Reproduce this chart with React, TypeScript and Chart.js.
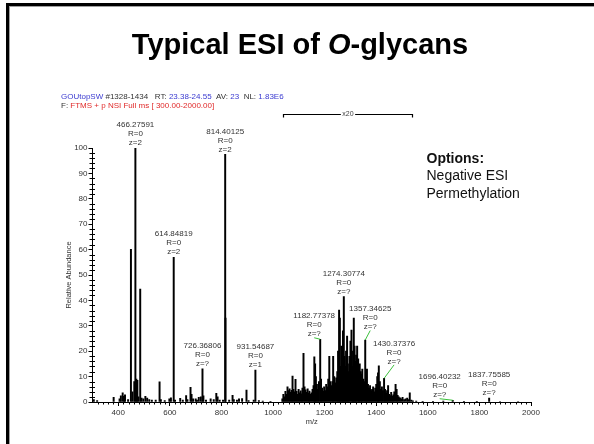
import React, { useEffect, useRef } from "react";
import { Chart, registerables } from "chart.js";

Chart.register(...registerables);

const FONT = '"Liberation Sans", Arial, Helvetica, sans-serif';

// ---------- Spectrum data: m/z and relative abundance (%) ----------
const lowMz = [
  305, 318, 382, 405, 410, 417, 422, 426, 438, 449,
  455, 462, 466.27591, 470, 474, 478, 485, 490, 497, 505,
  512, 520, 530, 545, 560, 565, 580, 598, 604, 614.84819,
  620, 640, 650, 663, 668, 680, 684, 690, 700, 705,
  712, 720, 726.36806, 730, 740, 758, 770, 780, 785, 793,
  806, 814.40125, 815.6, 830, 843, 848, 860, 868, 880, 897,
  905, 925, 931.54687, 945, 960, 990,
];
const lowInt = [
  1.0, 0.6, 1.8, 1.2, 2.4, 3.6, 2.2, 2.8, 1.0, 60.1,
  4.0, 8.0, 100, 9.0, 8.5, 2.0, 44.5, 1.5, 1.2, 2.2,
  1.5, 1.0, 0.8, 0.8, 7.9, 1.0, 0.6, 1.2, 1.6, 57,
  0.8, 1.4, 0.8, 2.5, 1.0, 5.8, 3.0, 1.2, 1.2, 0.8,
  1.8, 2.0, 13.1, 2.4, 0.8, 1.2, 1.0, 3.4, 2.0, 0.8,
  0.8, 97.5, 33, 0.8, 2.6, 1.0, 0.8, 1.2, 1.3, 4.7,
  0.6, 0.8, 12.6, 0.6, 0.4, 0.3,
];

// x20 magnified region
const clusterMz = [
  1036, 1040, 1044, 1048, 1052, 1056, 1060, 1064, 1068, 1072,
  1075.5, 1079, 1083, 1087, 1091, 1095, 1099, 1103, 1107, 1111,
  1114, 1118, 1122, 1126, 1130, 1134, 1138, 1141, 1145, 1149,
  1153, 1157, 1160, 1163, 1166, 1170, 1174, 1178, 1182.77378, 1186,
  1190, 1194, 1198, 1202, 1206, 1210, 1214, 1218, 1222, 1226,
  1230, 1233, 1237, 1241, 1245, 1249, 1252, 1256, 1259, 1262,
  1265, 1268, 1271, 1274.30774, 1277, 1280, 1283, 1287, 1290, 1293,
  1296, 1300, 1304, 1307, 1310, 1313, 1316, 1319, 1322, 1326,
  1330, 1333, 1336, 1340, 1343, 1346, 1350, 1354, 1357.34625, 1361,
  1364, 1368, 1372, 1376, 1380, 1384, 1388, 1392, 1396, 1400,
  1404, 1407, 1410, 1414, 1418, 1422, 1426, 1430.37376, 1434, 1438,
  1442, 1446, 1450, 1454, 1458, 1462, 1466, 1470, 1475, 1479,
  1483, 1487, 1492, 1497, 1502, 1508, 1514, 1520, 1525, 1530,
  1536, 1542,
];
const clusterInt = [
  1.2, 3.0, 2.0, 4.2, 3.0, 6.0, 4.5, 5.2, 3.8, 4.6,
  10.2, 5.0, 4.0, 8.9, 4.2, 3.0, 5.0, 3.6, 4.4, 3.2,
  5.5, 19.2, 6.0, 4.8, 3.8, 5.2, 3.5, 4.3, 3.0, 3.6,
  5.0, 6.5, 17.8, 15.0, 10.0, 7.0, 5.0, 8.0, 24.7, 9.0,
  5.5, 4.2, 6.0, 4.5, 7.0, 6.0, 9.0, 18.0, 8.0, 6.5,
  8.0, 18.0, 10.0, 7.5, 9.5, 12.0, 20.0, 36.2, 33.0, 14.0,
  22.0, 16.0, 28.0, 41.5, 18.0, 14.0, 20.0, 26.0, 15.0, 12.0,
  18.0, 24.0, 28.3, 14.0, 20.0, 33.0, 22.0, 16.0, 18.5, 22.0,
  17.0, 14.0, 15.0, 12.0, 11.0, 13.0, 9.0, 8.0, 24.4, 10.0,
  13.0, 7.0, 5.5, 6.5, 4.5, 5.0, 6.0, 4.0, 5.5, 7.0,
  10.0, 11.5, 14.2, 8.0, 5.0, 6.0, 4.5, 9.3, 5.0, 3.5,
  4.5, 6.5, 3.0, 2.5, 3.8, 2.2, 2.8, 4.0, 7.0, 5.0,
  2.6, 2.0, 1.6, 1.2, 1.8, 1.0, 1.2, 1.5, 1.0, 3.6,
  0.8, 0.5,
];

const highMz = [1555, 1580, 1620, 1660, 1696.40232, 1740, 1790, 1837.75585, 1880, 1950];
const highInt = [0.4, 0.3, 0.3, 0.4, 0.7, 0.3, 0.3, 1.5, 0.2, 0.2];

// Peak annotations
const labelMz = [466.27591, 614.84819, 726.36806, 814.40125, 931.54687, 1182.77378, 1274.30774, 1357.34625, 1430.37376, 1696.40232, 1837.75585];
const labelR = ["0", "0", "0", "0", "0", "0", "0", "0", "0", "0", "0"];
const labelZ = ["2", "2", "?", "2", "1", "?", "?", "?", "?", "?", "?"];

// Axis ticks
const xTicks = [400, 600, 800, 1000, 1200, 1400, 1600, 1800, 2000];
const yTicks = [0, 10, 20, 30, 40, 50, 60, 70, 80, 90, 100];
const zoomRange = [1037, 1540];
const zoomText = "x20";

// ---------- layout (pixels) ----------
const labelDx = [0, 0, 0, 0, 0, -6, 0, 5, 10, -13, 0];
const labelRise = [5, 5, 5, 5, 5, 5, 5, 13, 17, 5, 5];
const labelLeader = [false, false, false, false, false, true, false, true, true, true, false];

const allMz = [...lowMz, ...clusterMz, ...highMz];
const allInt = [...lowInt, ...clusterInt, ...highInt];

function intensityAt(mz: number): number {
  const i = allMz.indexOf(mz);
  return i >= 0 ? allInt[i] : 0;
}

type Seg = { t: string; c: string; f: string };

function drawSegs(ctx: CanvasRenderingContext2D, segs: Seg[], x: number, y: number, center = false) {
  let total = 0;
  for (const s of segs) {
    ctx.font = s.f;
    total += ctx.measureText(s.t).width;
  }
  let cx = center ? x - total / 2 : x;
  ctx.textAlign = "left";
  for (const s of segs) {
    ctx.font = s.f;
    ctx.fillStyle = s.c;
    ctx.fillText(s.t, cx, y);
    cx += ctx.measureText(s.t).width;
  }
}

const decoPlugin = {
  id: "deco",
  afterDraw(chart: any) {
    const ctx: CanvasRenderingContext2D = chart.ctx;
    const xs = chart.scales.x;
    const ys = chart.scales.y;
    const area = chart.chartArea;
    ctx.save();

    // slide frame (top + left)
    ctx.fillStyle = "#000";
    ctx.fillRect(6, 3, 594 - 6, 3);
    ctx.fillRect(6, 3, 3, 444 - 3);
    ctx.fillStyle = "#a0a0a0";
    ctx.fillRect(9, 6, 594 - 9, 1);
    ctx.fillRect(9, 6, 1, 444 - 6);

    // slide title
    ctx.textBaseline = "middle";
    const tf = `bold 29px ${FONT}`;
    const tfi = `italic bold 29px ${FONT}`;
    drawSegs(ctx, [
      { t: "Typical ESI of ", c: "#000", f: tf },
      { t: "O", c: "#000", f: tfi },
      { t: "-glycans", c: "#000", f: tf },
    ], 300, 46, true);

    // header lines
    const hf = `8px ${FONT}`;
    const blue = "#3a3ad0";
    const grey = "#333";
    const red = "#e02a2a";
    drawSegs(ctx, [
      { t: "GOUtopSW", c: blue, f: hf },
      { t: " #1328-1434   RT: ", c: grey, f: hf },
      { t: "23.38-24.55", c: blue, f: hf },
      { t: "  AV: ", c: grey, f: hf },
      { t: "23", c: blue, f: hf },
      { t: "  NL: ", c: grey, f: hf },
      { t: "1.83E6", c: blue, f: hf },
    ], 61, 96.5);
    drawSegs(ctx, [
      { t: "F: ", c: grey, f: hf },
      { t: "FTMS + p NSI Full ms [ 300.00-2000.00]", c: red, f: hf },
    ], 61, 106);

    // options box
    ctx.fillStyle = "#111";
    ctx.textAlign = "left";
    ctx.font = `bold 14px ${FONT}`;
    ctx.fillText("Options:", 426.5, 159);
    ctx.font = `14px ${FONT}`;
    ctx.fillText("Negative ESI", 426.5, 176.5);
    ctx.fillText("Permethylation", 426.5, 194);

    // x20 bracket
    const bx1 = Math.round(xs.getPixelForValue(zoomRange[0])) + 0.5;
    const bx2 = Math.round(xs.getPixelForValue(zoomRange[1])) + 0.5;
    const by = 114.5;
    ctx.font = `7px ${FONT}`;
    const tw = ctx.measureText(zoomText).width;
    const mid = (bx1 + bx2) / 2;
    ctx.strokeStyle = "#000";
    ctx.lineWidth = 1.2;
    ctx.beginPath();
    ctx.moveTo(bx1, by + 3);
    ctx.lineTo(bx1, by);
    ctx.lineTo(mid - tw / 2 - 1.5, by);
    ctx.moveTo(mid + tw / 2 + 1.5, by);
    ctx.lineTo(bx2, by);
    ctx.lineTo(bx2, by + 3);
    ctx.stroke();
    ctx.fillStyle = "#444";
    ctx.textAlign = "center";
    ctx.fillText(zoomText, mid, by);

    // minor ticks
    ctx.strokeStyle = "#000";
    ctx.lineWidth = 1;
    ctx.beginPath();
    for (let v = 320; v < 2000; v += 20) {
      if (v % 200 === 0) continue;
      const px = Math.round(xs.getPixelForValue(v)) + 0.5;
      ctx.moveTo(px, area.bottom);
      ctx.lineTo(px, area.bottom + 2.5);
    }
    for (let v = 2; v < 100; v += 2) {
      if (v % 10 === 0) continue;
      const py = Math.round(ys.getPixelForValue(v)) + 0.5;
      ctx.moveTo(area.left - 3, py);
      ctx.lineTo(area.left + 2.5, py);
    }
    ctx.stroke();

    // peak labels
    ctx.font = `8px ${FONT}`;
    ctx.textAlign = "center";
    ctx.textBaseline = "middle";
    for (let i = 0; i < labelMz.length; i++) {
      const mz = labelMz[i];
      const px = xs.getPixelForValue(mz);
      const py = ys.getPixelForValue(intensityAt(mz));
      const tx = px + labelDx[i];
      const bottom = py - labelRise[i];
      ctx.fillStyle = "#333";
      ctx.fillText(mz.toFixed(5), tx, bottom - 18);
      ctx.fillText("R=" + labelR[i], tx, bottom - 9);
      ctx.fillText("z=" + labelZ[i], tx, bottom);
      if (labelLeader[i]) {
        ctx.strokeStyle = "#3cc03c";
        ctx.lineWidth = 1;
        ctx.beginPath();
        ctx.moveTo(tx, bottom + 3.5);
        ctx.lineTo(px, py);
        ctx.stroke();
      }
    }
    ctx.restore();
  },
};

export default function App() {
  const ref = useRef<HTMLCanvasElement>(null);
  useEffect(() => {
    const canvas = ref.current;
    if (!canvas) return;
    const chart = new Chart(canvas, {
      type: "bar",
      data: {
        datasets: [
          {
            data: allMz.map((m, i) => ({ x: m, y: allInt[i] })),
            backgroundColor: "#000",
            borderWidth: 0,
            barThickness: 1.3,
            grouped: false,
          } as any,
        ],
      },
      options: {
        animation: false,
        responsive: false,
        devicePixelRatio: 1,
        layout: { padding: { left: 0, top: 148, right: 63, bottom: 0 } },
        plugins: { legend: { display: false }, tooltip: { enabled: false }, title: { display: false } },
        scales: {
          x: {
            type: "linear",
            min: 300,
            max: 2000,
            offset: false,
            afterFit: (s: any) => { s.height = 42; },
            afterBuildTicks: (s: any) => { s.ticks = xTicks.map((v) => ({ value: v })); },
            grid: { display: true, drawOnChartArea: false, drawTicks: true, tickLength: 4, color: "#000", tickColor: "#000", offset: false },
            border: { display: true, color: "#000", width: 1 },
            ticks: { autoSkip: false, maxRotation: 0, padding: 2, color: "#333", font: { family: FONT, size: 8 }, callback: (v: any) => String(v) },
            title: { display: true, text: "m/z", color: "#333", font: { family: FONT, size: 7.5 }, padding: { top: 0, bottom: 17.5 } },
          },
          y: {
            type: "linear",
            min: 0,
            max: 100,
            afterFit: (s: any) => { s.width = 92.5; },
            afterBuildTicks: (s: any) => { s.ticks = yTicks.map((v) => ({ value: v })); },
            grid: { display: true, drawOnChartArea: false, drawTicks: true, tickLength: 4, color: "#000", tickColor: "#000" },
            border: { display: true, color: "#000", width: 1 },
            ticks: { autoSkip: false, padding: 1, color: "#333", font: { family: FONT, size: 8 }, callback: (v: any) => String(v) },
            title: { display: true, text: "Relative Abundance", color: "#333", font: { family: FONT, size: 7.5 }, padding: { top: 64.5, bottom: 0 } },
          },
        },
      } as any,
      plugins: [decoPlugin],
    });
    return () => chart.destroy();
  }, []);
  return (
    <div style={{ position: "fixed", left: 0, top: 0, width: 594, height: 444, background: "#fff", overflow: "hidden" }}>
      <canvas ref={ref} width={594} height={444} style={{ display: "block", width: 594, height: 444 }} />
    </div>
  );
}
